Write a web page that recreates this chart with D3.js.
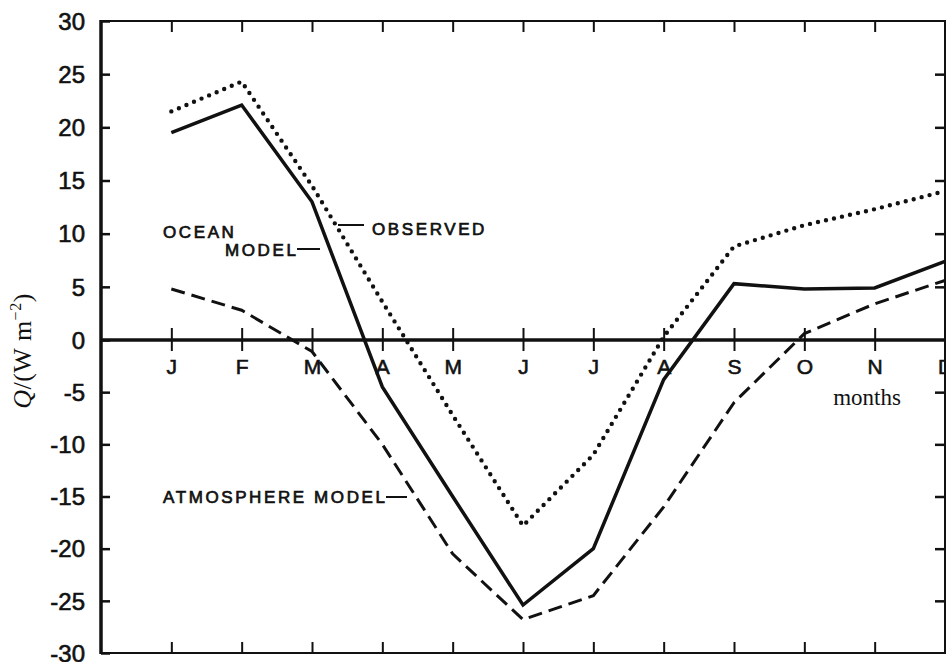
<!DOCTYPE html>
<html><head><meta charset="utf-8">
<script src="https://cdn.jsdelivr.net/npm/d3@7"></script>
<style>body{margin:0;background:#fff}svg{display:block}</style>
</head><body>
<script>
const months = ["J","F","M","A","M","J","J","A","S","O","N","D"];
const yTicks = [-30,-25,-20,-15,-10,-5,0,5,10,15,20,25,30];
const observed = [21.5, 24.3, 14.5, 3.6, -7.2, -17.8, -11, 0.3, 8.8, 10.8, 12.3, 14.0];
const oceanModel = [19.5, 22.1, 13.0, -4.5, -15.0, -25.4, -20.0, -3.8, 5.3, 4.8, 4.9, 7.4];
const atmosphereModel = [4.8, 2.8, -1.1, -10.0, -20.5, -26.8, -24.5, -16.0, -6.0, 0.6, 3.4, 5.6];

const W = 946, H = 662;
const svg = d3.select("body").append("svg").attr("width", W).attr("height", H);
const x = d3.scaleLinear().domain([-1, 11]).range([101, 945]);
const y = d3.scaleLinear().domain([-30, 0, 30]).range([653, 340, 21]);
const sans = "'Liberation Sans', Arial, sans-serif";
const serif = "'Liberation Serif', 'DejaVu Serif', serif";
const ink = "#111";

// frame
svg.append("line").attr("x1", 101).attr("x2", 946).attr("y1", y(30)).attr("y2", y(30)).attr("stroke", ink).attr("stroke-width", 2);
svg.append("line").attr("x1", 101).attr("x2", 946).attr("y1", y(-30)).attr("y2", y(-30)).attr("stroke", ink).attr("stroke-width", 2);
svg.append("line").attr("x1", 945).attr("x2", 945).attr("y1", y(30)).attr("y2", y(-30)).attr("stroke", ink).attr("stroke-width", 2);

// top and bottom ticks
const mi = d3.range(months.length);
svg.append("g").attr("transform", `translate(0,${y(30)})`)
  .call(d3.axisBottom(x).tickValues(mi).tickSize(11).tickFormat(""))
  .call(g => { g.select(".domain").remove(); g.selectAll("line").attr("stroke", ink).attr("stroke-width", 2); });
svg.append("g").attr("transform", `translate(0,${y(-30)})`)
  .call(d3.axisTop(x).tickValues(mi).tickSize(11).tickFormat(""))
  .call(g => { g.select(".domain").remove(); g.selectAll("line").attr("stroke", ink).attr("stroke-width", 2); });

// right ticks
svg.append("g").attr("transform", `translate(945,0)`)
  .call(d3.axisLeft(y).tickValues(yTicks.filter(v => v !== 0 && Math.abs(v) !== 30)).tickSize(10).tickFormat(""))
  .call(g => { g.select(".domain").remove(); g.selectAll("line").attr("stroke", ink).attr("stroke-width", 2.5); });

// left axis
const left = svg.append("g").attr("transform", `translate(101,0)`)
  .call(d3.axisLeft(y).tickValues(yTicks).tickSize(12).tickPadding(4).tickFormat(d => d < 0 ? "-" + Math.abs(d) : d));
left.select(".domain").remove();
left.selectAll(".tick line").attr("x2", 9).attr("stroke", ink).attr("stroke-width", 2.5);
left.selectAll(".tick text").attr("font-family", sans).attr("font-size", 24).attr("fill", ink)
  .attr("stroke", ink).attr("stroke-width", 0.6).attr("dy", "0.34em");
svg.append("line").attr("x1", 101).attr("x2", 101).attr("y1", y(30) - 1).attr("y2", y(-30) + 1).attr("stroke", ink).attr("stroke-width", 3.5);

// zero axis with month ticks
const zero = svg.append("g").attr("transform", `translate(0,${y(0)})`)
  .call(d3.axisBottom(x).tickValues(mi).tickSize(11).tickPadding(8).tickFormat(i => months[i]));
zero.select(".domain").remove();
zero.selectAll(".tick line").attr("y1", -12).attr("stroke", ink).attr("stroke-width", 2);
zero.selectAll(".tick text").attr("font-family", sans).attr("font-size", 21).attr("fill", ink)
  .attr("stroke", ink).attr("stroke-width", 0.6).attr("dy", "0.72em");
svg.append("line").attr("x1", 101).attr("x2", 946).attr("y1", y(0)).attr("y2", y(0)).attr("stroke", ink).attr("stroke-width", 3.5);

// series
const line = d3.line().x((d, i) => x(i)).y(d => y(d));
svg.append("path").datum(atmosphereModel).attr("d", line).attr("fill", "none")
  .attr("stroke", ink).attr("stroke-width", 3).attr("stroke-dasharray", "14 7");
svg.append("path").datum(observed).attr("d", line).attr("fill", "none")
  .attr("stroke", ink).attr("stroke-width", 4.4).attr("stroke-linecap", "round").attr("stroke-dasharray", "0 8.2");
svg.append("path").datum(oceanModel).attr("d", line).attr("fill", "none")
  .attr("stroke", ink).attr("stroke-width", 3.5).attr("stroke-linejoin", "miter");

// labels
const lab = (t, px, py) => svg.append("text").attr("x", px).attr("y", py).text(t)
  .attr("font-family", sans).attr("font-size", 17).attr("letter-spacing", 2.6).attr("fill", ink)
  .attr("stroke", ink).attr("stroke-width", 0.7);
lab("OCEAN", 163, 238);
lab("MODEL", 225, 256);
lab("OBSERVED", 372, 235);
lab("ATMOSPHERE MODEL", 163, 503);
const lead = (x1, x2, yy) => svg.append("line").attr("x1", x1).attr("x2", x2).attr("y1", yy).attr("y2", yy).attr("stroke", ink).attr("stroke-width", 2);
lead(297, 320, 249);
lead(338, 364, 225);
lead(386, 407, 497);

// axis titles
const yl = svg.append("text").attr("transform", "translate(31,351) rotate(-90)").attr("text-anchor", "middle")
  .attr("font-family", serif).attr("font-size", 26).attr("letter-spacing", 0.5).attr("fill", ink);
yl.append("tspan").attr("font-style", "italic").text("Q");
yl.append("tspan").text("/(W m");
yl.append("tspan").attr("font-size", 16).attr("dy", -10).text("−2");
yl.append("tspan").attr("dy", 10).text(")");

svg.append("text").attr("x", 867).attr("y", 405).attr("text-anchor", "middle")
  .attr("font-family", serif).attr("font-size", 23).attr("fill", ink).text("months");
</script>
</body></html>
